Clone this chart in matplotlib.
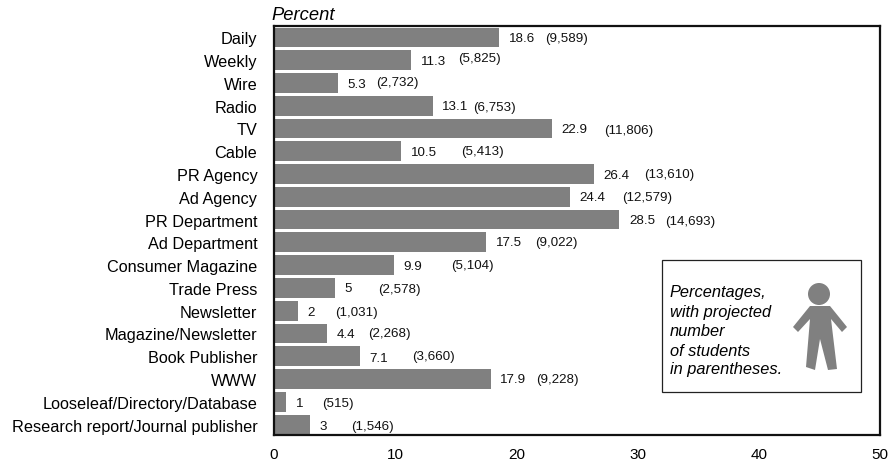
import matplotlib
matplotlib.use("Agg")
import matplotlib.pyplot as plt
from matplotlib.patches import Circle, Polygon, Rectangle
from matplotlib.transforms import Affine2D, offset_copy

categories = ["Daily", "Weekly", "Wire", "Radio", "TV", "Cable", "PR Agency", "Ad Agency",
              "PR Department", "Ad Department", "Consumer Magazine", "Trade Press", "Newsletter",
              "Magazine/Newsletter", "Book Publisher", "WWW", "Looseleaf/Directory/Database",
              "Research report/Journal publisher"]
percent = [18.6, 11.3, 5.3, 13.1, 22.9, 10.5, 26.4, 24.4, 28.5, 17.5, 9.9, 5, 2, 4.4, 7.1, 17.9, 1, 3]
students = ["9,589", "5,825", "2,732", "6,753", "11,806", "5,413", "13,610", "12,579", "14,693",
            "9,022", "5,104", "2,578", "1,031", "2,268", "3,660", "9,228", "515", "1,546"]

# where the figures in parentheses start, px to the right of the bar end
paren_gap = [46, 47, 38, 40, 53, 60, 50, 52, 46, 49, 57, 44, 37, 41, 52, 45, 36, 41]
# the labels are not quite on the bar centre in the original, px downwards
value_dy = [1, 1, 1, 0, 1, 1, 1, 0, 0, 0, 1, 0, 1, 1, 2, 0, 1, 1]
paren_dy = [1, -2, -1, 1, 2, 0, 0, 0, 1, 0, 0, 1, 1, 0, 0, 0, 1, 1]

W, H = 890, 464
plt.rcParams["font.family"] = ["Liberation Sans", "DejaVu Sans"]

fig = plt.figure(figsize=(W / 100, H / 100), dpi=100)
ax = fig.add_axes([274 / W, 1 - 436 / H, 606 / W, 409 / H])

y = list(range(len(categories)))
ax.barh(y, percent, height=0.865, left=0, color="#808080")
ax.set_xlim(0, 50)
ax.set_ylim(17.46, -0.5)
ax.set_yticks(y, categories, fontsize=11.7)
ax.set_xticks(range(0, 51, 10))
ax.tick_params(axis="both", length=0)
ax.tick_params(axis="x", labelsize=11, pad=9)
ax.tick_params(axis="y", pad=12)
for s in ax.spines.values():
    s.set_linewidth(1.6)
    s.set_color("#111111")

px = 50 / 606
for i, v in enumerate(percent):
    value_tr = offset_copy(ax.transData, fig=fig, y=-value_dy[i], units="dots")
    paren_tr = offset_copy(ax.transData, fig=fig, y=-paren_dy[i], units="dots")
    ax.text(v + 9.5 * px, i, str(v), fontsize=9.6, va="center", ha="left", color="#111111", transform=value_tr)
    ax.text(v + paren_gap[i] * px, i, "(" + students[i] + ")", fontsize=9.6, va="center", ha="left",
            color="#111111", transform=paren_tr)

fig.text(271 / W, 1 - 16 / H, "Percent", fontsize=13.2, style="italic", va="center", ha="left")

# legend box, drawn in pixels from the top left of the figure
pixels = Affine2D().scale(1 / W, -1 / H).translate(0, 1) + fig.transFigure
fig.add_artist(Rectangle((662, 261), 199, 132, transform=pixels, facecolor="white",
                         edgecolor="#222222", linewidth=0.9))
note = ["Percentages,", "with projected", "number", "of students", "in parentheses."]
for line, ty in zip(note, [293, 312, 331, 351, 370]):
    fig.text(670 / W, 1 - ty / H, line, fontsize=11.8, style="italic", va="center", ha="left")

fig.add_artist(Circle((819, 295), 11, transform=pixels, facecolor="#808080", edgecolor="none"))
body = [(810, 307), (830, 307), (847, 328), (842, 333), (831, 320), (837, 370), (828, 371),
        (820, 340), (815, 371), (806, 368), (810, 320), (798, 333), (793, 328)]
fig.add_artist(Polygon(body, closed=True, transform=pixels, facecolor="#808080", edgecolor="none"))

fig.savefig("out.png", dpi=100)
